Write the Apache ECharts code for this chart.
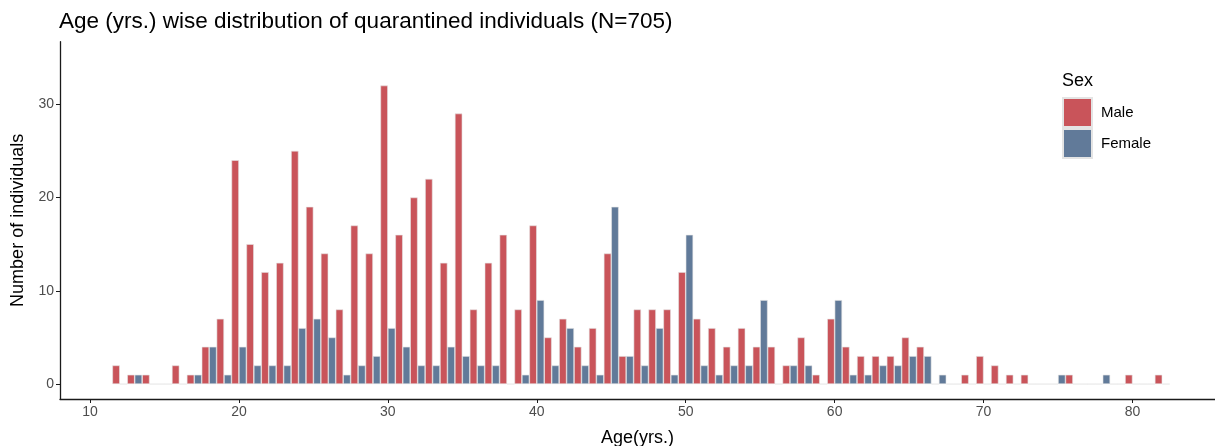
<!DOCTYPE html>
<html>
<head>
<meta charset="utf-8">
<script src="https://cdn.jsdelivr.net/npm/echarts@6/dist/echarts.min.js"></script>
<style>
  html, body { margin: 0; padding: 0; background: #fff; }
  #chart { width: 1215px; height: 446px; }
</style>
</head>
<body>
<div id="chart"></div>
<script>
// ages 12..82, one count per age
var ages = [];
for (var a = 12; a <= 82; a++) ages.push(a);

var male = [2, 1, 1, 0, 2, 1, 4, 7, 24, 15, 12, 13, 25, 19, 14, 8, 17, 14, 32, 16,
  20, 22, 13, 29, 8, 13, 16, 8, 17, 5, 7, 4, 6, 14, 3, 8, 8, 8, 12, 7,
  6, 4, 6, 4, 4, 2, 5, 1, 7, 4, 3, 3, 3, 5, 4, 0, 0, 1, 3, 2,
  1, 1, 0, 0, 1, 0, 0, 0, 1, 0, 1];
var female = [0, 1, 0, 0, 0, 1, 4, 1, 4, 2, 2, 2, 6, 7, 5, 1, 2, 3, 6, 4,
  2, 2, 4, 3, 2, 2, 0, 1, 9, 2, 6, 2, 1, 19, 3, 2, 6, 1, 16, 2,
  1, 2, 2, 9, 0, 2, 2, 0, 9, 1, 1, 2, 2, 3, 3, 1, 0, 0, 0, 0,
  0, 0, 0, 1, 0, 0, 1, 0, 0, 0, 0];

var yTicks = [0, 10, 20, 30];
var xTicks = [10, 20, 30, 40, 50, 60, 70, 80];

var chart = echarts.init(document.getElementById('chart'));

function pairs(vals) {
  return ages.map(function (age, i) { return [age, vals[i]]; });
}

var txt = '#4d4d4d';
var axisCol = '#1a1a1a';
var font = 'Liberation Sans, Arial, sans-serif';

var option = {
  backgroundColor: '#fff',
  animation: false,
  title: [
    {
      text: 'Age (yrs.) wise distribution of quarantined individuals (N=705)',
      left: 59, top: 10, padding: 0,
      textStyle: { fontFamily: font, fontSize: 22.5, fontWeight: 'normal', color: '#000' }
    },
    {
      text: 'Sex',
      left: 1062, top: 72, padding: 0,
      textStyle: { fontFamily: font, fontSize: 18, fontWeight: 'normal', color: '#000' }
    }
  ],
  legend: {
    data: ['Male', 'Female'],
    orient: 'vertical',
    left: 1062, top: 97, padding: 0,
    itemWidth: 29, itemHeight: 29, itemGap: 0,
    icon: 'rect',
    textStyle: { fontFamily: font, fontSize: 15, color: '#000', padding: [0, 0, 0, 4] }
  },
  grid: { left: 60, right: 0, top: 41.7, bottom: 47, containLabel: false, outerBoundsMode: 'none' },
  xAxis: {
    type: 'value',
    min: 7.985, max: 85.54,
    name: 'Age(yrs.)',
    nameLocation: 'middle',
    nameGap: 30,
    nameTextStyle: { fontFamily: font, fontSize: 18, color: '#000' },
    splitLine: { show: false },
    axisLine: { onZero: false, lineStyle: { color: axisCol, width: 1.3 } },
    axisTick: { length: 4, lineStyle: { color: axisCol }, customValues: xTicks },
    axisLabel: { fontFamily: font, fontSize: 14, color: txt, margin: 6, customValues: xTicks }
  },
  yAxis: {
    type: 'value',
    min: -1.6, max: 36.7,
    name: 'Number of individuals',
    nameLocation: 'middle',
    nameGap: 28,
    nameTextStyle: { fontFamily: font, fontSize: 18, color: '#000' },
    splitLine: { show: false },
    axisLine: { show: true, onZero: false, lineStyle: { color: axisCol, width: 1.3 } },
    axisTick: { show: true, length: 4, lineStyle: { color: axisCol }, customValues: yTicks },
    axisLabel: { fontFamily: font, fontSize: 14, color: txt, margin: 6, customValues: yTicks }
  },
  series: [
    {
      name: 'Male', type: 'bar',
      data: pairs(male),
      barWidth: 7.44, barGap: '0%',
      itemStyle: { color: '#C9545A', borderColor: '#e4e4e4', borderWidth: 0.6 }
    },
    {
      name: 'Female', type: 'bar',
      data: pairs(female),
      barWidth: 7.44, barGap: '0%',
      itemStyle: { color: '#617A99', borderColor: '#e4e4e4', borderWidth: 0.6 }
    }
  ]
};

chart.setOption(option);
</script>
</body>
</html>
